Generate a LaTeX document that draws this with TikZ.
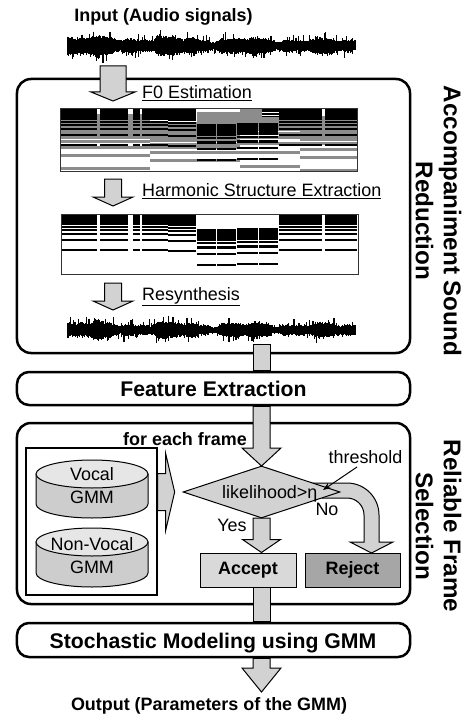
\documentclass[tikz,border=0pt]{standalone}
\usepackage{fontspec}
\setmainfont{Liberation Sans}
\usetikzlibrary{shapes.geometric,calc,arrows.meta}
\definecolor{agray}{HTML}{D2D2D2}
\definecolor{accfill}{HTML}{D9D9D9}
\definecolor{rejfill}{HTML}{A6A6A6}
\definecolor{cylbody}{HTML}{CDCDCD}
\definecolor{cyltop}{HTML}{E6E6E6}
\definecolor{specgray}{HTML}{8C8C8C}
\newcommand\harm[7]{%
  \foreach \k in {1,...,16}{%
    \pgfmathsetmacro\yy{#3-#5*ln(\k)/ln(2)}%
    \pgfmathtruncatemacro\ok{\yy>#4}%
    \ifnum\ok=1 \draw[#6,line width=#7bp] (#1,\yy) -- (#2,\yy);\fi}}
\newcommand\fatdown[5]{%
  \filldraw[fatarr] let \p1=#1, \p2=#2 in
    (\x2-#3bp,\y1) -- (\x2-#3bp,\y2+#5bp) -- (\x2-#4bp,\y2+#5bp) -- (\x2,\y2)
    -- (\x2+#4bp,\y2+#5bp) -- (\x2+#3bp,\y2+#5bp) -- (\x2+#3bp,\y1) -- cycle;}
\newcommand\fatbar[2]{%
  \filldraw[fatarr] let \p1=#1, \p2=#2 in (\x1-8.5bp,\y1) rectangle (\x1+8.5bp,\y2);}
\newcommand\waveform[2]{%
  \foreach \x in {68,68.7,...,356}{%
    \pgfmathsetmacro\env{(#2+1.6*sin(\x*4.7)+1.1*sin(\x*11.3+40)+0.8*sin(\x*23+10))*(1.08-0.28*(\x-68)/288)}%
    \pgfmathsetmacro\ta{\env*(0.8+0.35*rnd)+7*pow(rnd,12)}%
    \pgfmathsetmacro\ba{\env*(0.8+0.35*rnd)+7*pow(rnd,12)}%
    \draw[line width=1.1bp] (\x,#1-\ta) -- (\x,#1+\ba);}}
\begin{document}
\begin{tikzpicture}[x=1bp,y=-1bp,
  lbl/.style={font=\fontsize{18}{20}\selectfont, inner sep=0pt},
  blbl/.style={font=\bfseries\fontsize{18}{20}\selectfont, inner sep=0pt},
  hdr/.style={font=\bfseries\fontsize{21.3}{24}\selectfont, inner sep=0pt},
  side/.style={font=\bfseries\fontsize{24.3}{28}\selectfont, rotate=-90, align=center, inner sep=0pt},
  rbox/.style={draw, line width=2.5bp, rounded corners=14bp, minimum width=393bp, inner sep=0pt},
  fatarr/.style={fill=agray, draw=black, line width=1bp},
  smallbox/.style={draw, line width=1bp, minimum width=96bp, minimum height=34bp, inner sep=0pt,
    font=\bfseries\fontsize{18}{20}\selectfont}]
\useasboundingbox (0,0) rectangle (468,716);
\pgfmathsetseed{4711}

% ---------- big boxes ----------
\node[rbox, minimum height=274bp] (asr) at (213.5,216) {};
\node[rbox, rounded corners=12bp, minimum height=33bp] (fe) at (213.5,388.5) {};
\node[rbox, minimum height=181bp] (rfs) at (213.5,513.5) {};
\node[rbox, rounded corners=12bp, minimum height=34bp] (sto) at (213.5,640) {};

\node[hdr, anchor=base] (fetext) at (213.5,396.5) {Feature Extraction};
\node[hdr, anchor=base] (stotext) at (213,648) {Stochastic Modeling using GMM};
\node[side] (t1) at (438.5,221) {Accompaniment Sound\\Reduction};
\node[side] (t2) at (438.5,526) {Reliable Frame\\Selection};

% ---------- input / output texts ----------
\node[blbl, anchor=base] (intext) at (163.5,21.5) {Input (Audio signals)};
\node[blbl, anchor=base] (outtext) at (209,710) {Output (Parameters of the GMM)};

% ---------- waveforms ----------
\node[minimum width=288bp, minimum height=34bp, inner sep=0pt] (wave1) at (212,46) {};
\waveform{46}{7}
\node[minimum width=288bp, minimum height=30bp, inner sep=0pt] (wave2) at (212,330) {};
\waveform{330}{6}

% ---------- step labels ----------
\node[lbl, anchor=base west] (f0) at (142,98.5) {\underline{F0 Estimation}};
\node[lbl, anchor=base west] (hse) at (142,196.5) {\underline{Harmonic Structure Extraction}};
\node[lbl, anchor=base west] (res) at (142,300.5) {\underline{Resynthesis}};

% ---------- spectrogram 1 ----------
\node[minimum width=297bp, minimum height=62bp, inner sep=0pt] (spec1) at (208.5,140) {};
\begin{scope}
  \clip (60,109) rectangle (357,171);
  \harm{60}{150}{168}{108}{13}{specgray}{3}
  \harm{150}{240}{172}{108}{12}{specgray}{3}
  \harm{240}{300}{166}{108}{14}{specgray}{3}
  \harm{300}{357}{170}{108}{13}{specgray}{3}
  \foreach \a/\b in {60/97,100/128,133/140,142/168,168/196,262/322,325/357}{
    \fill (\a,109) rectangle (\b,117);
    \draw[white, line width=0.6bp] (\a,112.5) -- (\b,112.5) (\a,115.3) -- (\b,115.3);}
  \fill[specgray] (197,112) rectangle (262,124);
  \foreach \a/\b/\c in {60/97/145,100/128/145,133/140/145,142/168/145,168/196/146,279/322/145,325/357/145}{
    \harm{\a}{\b}{\c}{108}{10}{black}{2.3}}
  \foreach \a/\b/\c in {197/216/160,217/236/160,237/258/159,259/278/159}{
    \harm{\a}{\b}{\c}{124}{11}{black}{2.3}}
\end{scope}
\draw[line width=1bp, black!80] (60,109) rectangle (357,171);

% ---------- spectrogram 2 ----------
\node[minimum width=297bp, minimum height=60bp, inner sep=0pt] (spec2) at (209.5,244) {};
\begin{scope}
  \clip (61,214) rectangle (358,274);
  \foreach \a/\b/\c in {62/97/250,100/128/250,133/140/250,142/168/250,168/196/251,279/322/250,325/357/250}{
    \harm{\a}{\b}{\c}{213}{10}{black}{2.5}}
  \foreach \a/\b/\c in {197/216/265,217/236/265,237/258/264,259/278/264}{
    \harm{\a}{\b}{\c}{229}{11}{black}{2.5}}
\end{scope}
\draw[line width=1bp, black!80] (61,214) rectangle (358,274);

% ---------- arrows in the first box ----------
\coordinate (a1s) at (113,66);  \coordinate (a1t) at (113,101);
\coordinate (a2s) at (113,179); \coordinate (a2t) at (113,206);
\coordinate (a3s) at (113,283); \coordinate (a3t) at (113,310);
\fatdown{(a1s)}{(a1t)}{13}{22}{9}
\fatdown{(a2s)}{(a2t)}{8.5}{20}{9}
\fatdown{(a3s)}{(a3t)}{8.5}{20}{9}

% ---------- main column ----------
\coordinate (col) at (261.5,0);
\coordinate (b1s) at (261.5,344);
\fatbar{(b1s)}{(fe.north -| col)}

\node[blbl, anchor=base] (fef) at (185,445.5) {for each frame};

% ---------- GMM models ----------
\node[draw, line width=1.3bp, minimum width=131bp, minimum height=147bp, inner sep=0pt] (gbox) at (91.5,521.5) {};
\filldraw[fill=cylbody, line width=1bp] (36,474) -- (36,504)
  arc[start angle=180, end angle=360, x radius=56bp, y radius=14bp] -- (148,474) -- cycle;
\filldraw[fill=cyltop, line width=1bp] (92,474) ellipse[x radius=56bp, y radius=14bp];
\filldraw[fill=cylbody, line width=1bp] (36,542) -- (36,573)
  arc[start angle=180, end angle=360, x radius=56bp, y radius=14bp] -- (148,542) -- cycle;
\filldraw[fill=cyltop, line width=1bp] (92,542) ellipse[x radius=56bp, y radius=14bp];
\node[lbl, anchor=base] (voc) at (92,480) {Vocal};
\node[lbl, anchor=base] (vocg) at (92,503.5) {GMM};
\node[lbl, anchor=base] (nvoc) at (92,550) {Non-Vocal};
\node[lbl, anchor=base] (nvocg) at (92,573.5) {GMM};

% ---------- decision ----------
\coordinate (diaC) at (261.5,492);
\filldraw[fatarr] let \p1=(gbox.east |- diaC) in
  (\x1,\y1+18.5bp) -- ++(8bp,0) -- ++(0,20bp) -- (\x1+17bp,\y1)
  -- (\x1+8bp,\y1-38.5bp) -- ++(0,20bp) -- (\x1,\y1-18.5bp) -- cycle;

\node[smallbox, fill=accfill] (acc) at (248,570) {Accept};
\node[smallbox, fill=rejfill, minimum width=95bp] (rej) at (352.5,570) {Reject};

\fatdown{(fe.south -| col)}{(diaC |- 0,466)}{8.5}{19.5}{18}
\fatdown{(diaC |- 0,518)}{(col |- acc.north)}{8.5}{19}{13}
\fatbar{(col |- acc.south)}{(col |- sto.north)}
\fatdown{(col |- sto.south)}{(col |- 0,692)}{8.5}{19.5}{24}

% curved "No" arrow
\filldraw[fatarr] (313,483) -- (347,483) arc[start angle=90, end angle=0, radius=32bp]
  -- (379,542) -- (393,542) -- (371.5,553) -- (350,542) -- (364,542) -- (364,515)
  arc[start angle=0, end angle=90, radius=17bp] -- (322,498) -- cycle;

\node[diamond, draw, fill=agray, line width=1bp, minimum width=157bp, minimum height=52bp, inner sep=0pt] (dia) at (diaC) {};
\node[lbl, anchor=base west] (lik) at (222,498.5) {likelihood>η};

\node[lbl, anchor=base] (thr) at (365.5,463) {threshold};
\coordinate (thrs) at (357,467);
\coordinate (thrt) at (323,490);
\draw[line width=1bp, -{Stealth[length=8bp,width=6bp]}] (thrs) -- (thrt);

\node[lbl, anchor=base] (yes) at (232,531.5) {Yes};
\node[lbl, anchor=base] (no) at (327,515.5) {No};
\end{tikzpicture}
\end{document}
